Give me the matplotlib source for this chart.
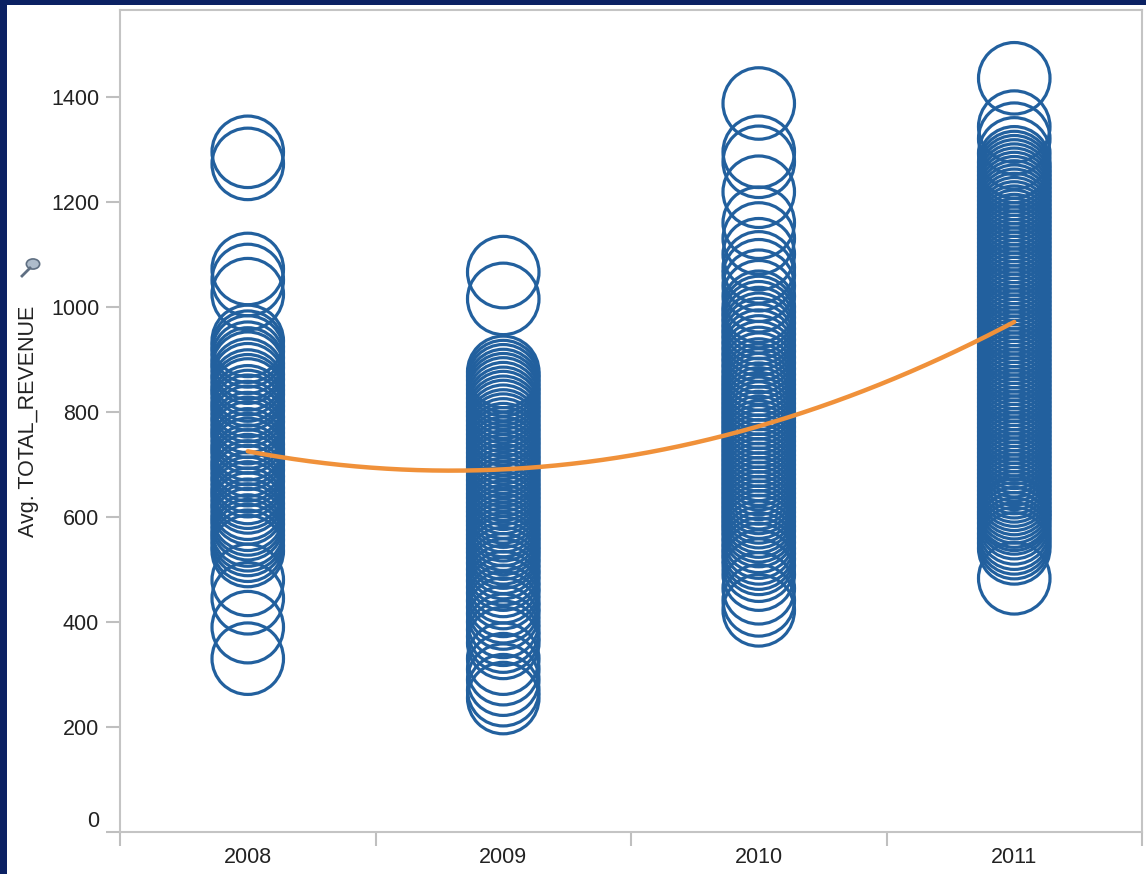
import numpy as np
import matplotlib.pyplot as plt
from matplotlib.patches import Rectangle, Circle
from matplotlib.lines import Line2D
from matplotlib.transforms import ScaledTranslation

plt.rcParams['font.family'] = ['Liberation Sans', 'DejaVu Sans']

years = ["2008", "2009", "2010", "2011"]

rev_2008 = [1295, 1272, 1072, 1051, 1024, 935, 924, 915, 903, 892, 884, 871, 862,
            850, 841, 833, 820, 811, 802, 790, 781, 769, 760, 751, 738, 729, 720,
            707, 698, 689, 677, 668, 655, 646, 637, 625, 616, 604, 595, 586, 574,
            565, 556, 545, 535, 480, 445, 390, 330]
rev_2009 = [1066, 1015, 876, 868, 860, 851, 843, 835, 826, 817, 809, 800, 792, 783,
            774, 766, 757, 748, 740, 731, 722, 713, 705, 696, 688, 679, 670, 661,
            653, 644, 636, 627, 618, 610, 601, 592, 584, 575, 566, 558, 549, 540,
            532, 522, 512, 500, 490, 478, 466, 455, 440, 428, 416, 400, 385, 372,
            360, 330, 310, 290, 270, 255]
rev_2010 = [1387, 1295, 1276, 1219, 1160, 1130, 1100, 1075, 1060, 1040, 1020, 1000,
            990, 980, 969, 958, 948, 937, 926, 915, 904, 893, 882, 871, 861, 852,
            843, 834, 825, 816, 807, 798, 789, 780, 771, 762, 753, 744, 735, 726,
            717, 708, 699, 690, 681, 672, 663, 654, 645, 636, 627, 618, 609, 600,
            591, 582, 573, 562, 551, 540, 530, 520, 507, 490, 464, 441, 422]
rev_2011 = [1435, 1343, 1320, 1292, 1275, 1266, 1258, 1250, 1242, 1234, 1226, 1218,
            1210, 1202, 1194, 1186, 1178, 1170, 1162, 1154, 1146, 1138, 1130, 1122,
            1114, 1106, 1098, 1090, 1082, 1074, 1066, 1058, 1050, 1042, 1034, 1026,
            1018, 1010, 1002, 994, 986, 978, 970, 962, 954, 946, 938, 930, 922, 914,
            906, 898, 890, 882, 874, 866, 858, 850, 842, 834, 826, 818, 810, 802,
            794, 786, 778, 770, 762, 754, 746, 738, 730, 722, 714, 706, 698, 690,
            682, 674, 666, 658, 650, 642, 634, 626, 618, 610, 604, 597, 588, 578,
            568, 559, 550, 540, 483]

# trend values read at each year
trend_vals = [725, 690, 773, 971]

fig = plt.figure(figsize=(11.46, 8.74), dpi=100)
fig.patch.set_facecolor('#0b2163')
fig.patches.append(Rectangle((7 / 1146, 0), 1, 1 - 5 / 874, transform=fig.transFigure,
                             facecolor='white', edgecolor='none', zorder=-10))

ax = fig.add_axes([120 / 1146, 42 / 874, 1022 / 1146, 822 / 874])
ax.set_facecolor('white')

blue = '#22609e'
for i, vals in enumerate([rev_2008, rev_2009, rev_2010, rev_2011]):
    ax.scatter(np.full(len(vals), i), vals, s=2650, facecolors='none',
               edgecolors=blue, linewidths=2.3, zorder=2)

coef = np.polyfit(np.arange(4), trend_vals, 2)
xs = np.linspace(0, 3, 200)
ax.plot(xs, np.polyval(coef, xs), color='#f0913a', lw=3.2, zorder=3,
        solid_capstyle='round')

ax.set_xlim(-0.5, 3.5)
ax.set_ylim(0, 1565)

ax.set_xticks([-0.5, 0.5, 1.5, 2.5, 3.5])
ax.set_xticklabels([])
ax.set_xticks(range(4), minor=True)
ax.set_xticklabels(years, minor=True)
ax.tick_params(axis='x', which='major', length=10, width=1.5, color='#bfbfbf', direction='out')
ax.tick_params(axis='x', which='minor', length=0, pad=11, labelsize=15.5, labelcolor='#222222')

ax.set_yticks(range(0, 1401, 200))
ax.tick_params(axis='y', length=10, width=1.5, color='#bfbfbf', pad=5,
               labelsize=15.5, labelcolor='#222222')

lbl0 = ax.get_yticklabels()[0]
lbl0.set_transform(lbl0.get_transform() + ScaledTranslation(0, 0.13, fig.dpi_scale_trans))

for sp in ax.spines.values():
    sp.set_color('#c4c4c4')
    sp.set_linewidth(1.5)

ax.set_ylabel('Avg. TOTAL_REVENUE', fontsize=15.5, color='#222222')
ax.yaxis.set_label_coords(-0.079, 0.5)

# small pin icon next to the axis title
fig.add_artist(Line2D([22 / 1146, 30 / 1146], [1 - 276 / 874, 1 - 268 / 874],
                      color='#5f6f82', lw=2))
fig.add_artist(Circle((33 / 1146, 1 - 264 / 874), 0.0058, transform=fig.transFigure,
                      facecolor='#aebccb', edgecolor='#5f6f82', lw=1.2))

fig.savefig('out.png', dpi=100, facecolor=fig.get_facecolor())
